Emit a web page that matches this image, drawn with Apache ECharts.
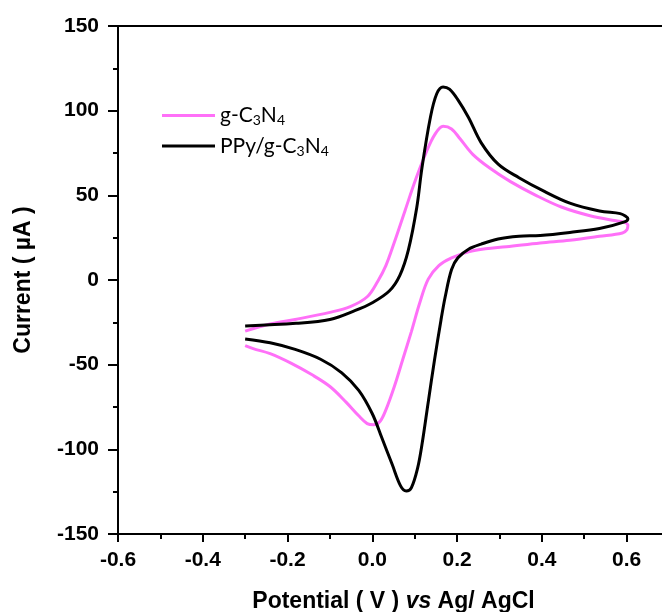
<!DOCTYPE html>
<html>
<head>
<meta charset="utf-8">
<title>CV</title>
<script src="https://cdn.jsdelivr.net/npm/echarts@6/dist/echarts.min.js"></script>
<style>
  html, body { margin: 0; padding: 0; background: #fff; overflow: hidden; }
  /* the figure is cropped on the right: the plot runs a few px past the window */
  #main { width: 669px; height: 612px; }
</style>
</head>
<body>
<div id="main"></div>
<script>
    // g-C3N4 (pink): forward scan then reverse scan
    var gcnX = [-0.300, -0.241, -0.182, -0.100, -0.052, -0.012, 0.013, 0.032, 0.052, 0.077, 0.102, 0.127, 0.147, 0.167, 0.187, 0.207, 0.237, 0.277, 0.326, 0.386, 0.446, 0.516, 0.575, 0.595, 0.603, 0.601,
                0.590, 0.536, 0.466, 0.396, 0.316, 0.267, 0.227, 0.187, 0.157, 0.132, 0.112, 0.092, 0.072, 0.052, 0.032, 0.018, 0.003, -0.012, -0.032, -0.062, -0.100, -0.142, -0.192, -0.241, -0.281, -0.300];
    var gcnY = [-30.2, -26.0, -23.3, -19.1, -15.7, -9.9, -0.7, 8.5, 22.3, 40.8, 59.2, 75.3, 85.7, 90.8, 89.2, 83.4, 74.2, 66.1, 58.1, 50.0, 43.1, 37.8, 35.0, 34.0, 32.3, 29.8,
                27.8, 25.8, 23.5, 21.9, 19.6, 18.4, 16.6, 13.1, 8.5, 0.5, -13.4, -30.6, -46.8, -62.9, -76.7, -83.6, -85.5, -84.8, -80.2, -72.1, -62.9, -56.0, -49.1, -43.5, -40.5, -38.7];

    // PPy/g-C3N4 (black)
    var ppyX = [-0.300, -0.180, -0.100, -0.040, 0.000, 0.040, 0.065, 0.085, 0.105, 0.117, 0.137, 0.152, 0.167, 0.182, 0.202, 0.227, 0.257, 0.297, 0.346, 0.406, 0.466, 0.536, 0.585, 0.597, 0.603,
                0.595, 0.536, 0.466, 0.396, 0.346, 0.297, 0.257, 0.227, 0.202, 0.187, 0.172, 0.162, 0.147, 0.132, 0.117, 0.107, 0.092, 0.080, 0.067, 0.047, 0.022, 0.000, -0.032, -0.072, -0.122, -0.182, -0.241, -0.300];
    var ppyY = [-27.2, -25.6, -23.3, -18.0, -13.4, -6.5, 2.8, 17.7, 43.0, 66.0, 96.0, 110.0, 114.0, 112.7, 106.4, 96.0, 81.0, 68.4, 60.4, 52.3, 45.4, 40.8, 39.2, 37.8, 36.2,
                34.3, 30.4, 28.1, 26.3, 25.8, 24.2, 21.2, 18.2, 13.1, 6.2, -9.9, -23.7, -46.8, -72.0, -97.5, -111.0, -122.8, -124.6, -121.7, -109.0, -92.9, -79.0, -65.2, -54.8, -46.8, -41.0, -37.1, -34.8];

    var xTicks = { min: -0.6, max: 0.7, interval: 0.2 };
    var yTicks = { min: -150, max: 150, interval: 50 };

    function pairs(xs, ys) {
        var out = [];
        for (var i = 0; i < xs.length; i++) out.push([xs[i], ys[i]]);
        return out;
    }

    function subName(name) {
        // g-C3N4 -> g-C{s|3}N{s|4}
        return name.replace(/(\d)/g, '{s|$1}');
    }

    var axisBlack = { color: '#000', width: 2 };
    var boldFont = { fontFamily: 'Liberation Sans', fontWeight: 'bold', color: '#000' };

    var myChart = echarts.init(document.getElementById('main'));
    myChart.setOption({
        animation: false,
        grid: {
            left: 118,
            right: 0,
            top: 26,
            bottom: 78,
            outerBoundsMode: 'none'
        },
        legend: {
            orient: 'vertical',
            left: 162,
            top: 105,
            padding: 0,
            icon: 'rect',
            itemWidth: 53,
            itemHeight: 3,
            itemGap: 8,
            formatter: subName,
            textStyle: {
                fontFamily: 'Lato',
                fontSize: 21,
                color: '#000',
                rich: {
                    s: { fontFamily: 'Lato', fontSize: 14, color: '#000', verticalAlign: 'bottom', padding: [10, 0, 0, 0] }
                }
            },
            data: ['g-C3N4', 'PPy/g-C3N4']
        },
        xAxis: [{
            type: 'value',
            min: xTicks.min,
            max: xTicks.max,
            interval: xTicks.interval,
            name: 'Potential ( V ) {i|vs} Ag/ AgCl',
            nameLocation: 'middle',
            nameGap: 56,
            nameTextStyle: Object.assign({ fontSize: 23 }, boldFont, {
                rich: {
                    i: Object.assign({ fontSize: 23, fontStyle: 'italic' }, boldFont)
                }
            }),
            axisLine: { onZero: false, lineStyle: axisBlack },
            axisTick: { length: 8, lineStyle: axisBlack },
            minorTick: { show: true, splitNumber: 2, length: 5, lineStyle: axisBlack },
            splitLine: { show: false },
            axisLabel: Object.assign({
                showMaxLabel: false,
                margin: 16,
                fontSize: 21,
                formatter: function (v) { return v.toFixed(1); }
            }, boldFont)
        }, {
            // top frame line
            type: 'value',
            position: 'top',
            min: xTicks.min,
            max: xTicks.max,
            axisLine: { onZero: false, lineStyle: axisBlack },
            axisTick: { show: false },
            axisLabel: { show: false },
            splitLine: { show: false }
        }],
        yAxis: {
            type: 'value',
            min: yTicks.min,
            max: yTicks.max,
            interval: yTicks.interval,
            name: 'Current ( µA )',
            nameLocation: 'middle',
            nameGap: 83,
            nameTextStyle: Object.assign({ fontSize: 23 }, boldFont),
            axisLine: { onZero: false, lineStyle: axisBlack },
            axisTick: { length: 10, lineStyle: axisBlack },
            minorTick: { show: true, splitNumber: 2, length: 5, lineStyle: axisBlack },
            splitLine: { show: false },
            axisLabel: Object.assign({ margin: 19, fontSize: 21 }, boldFont)
        },
        series: [
            {
                name: 'g-C3N4',
                type: 'line',
                smooth: 0.35,
                symbol: 'none',
                color: '#ff70f8',
                lineStyle: { color: '#ff70f8', width: 3 },
                data: pairs(gcnX, gcnY)
            },
            {
                name: 'PPy/g-C3N4',
                type: 'line',
                smooth: 0.35,
                symbol: 'none',
                color: '#000',
                lineStyle: { color: '#000', width: 3 },
                data: pairs(ppyX, ppyY)
            }
        ]
    });
</script>
</body>
</html>
